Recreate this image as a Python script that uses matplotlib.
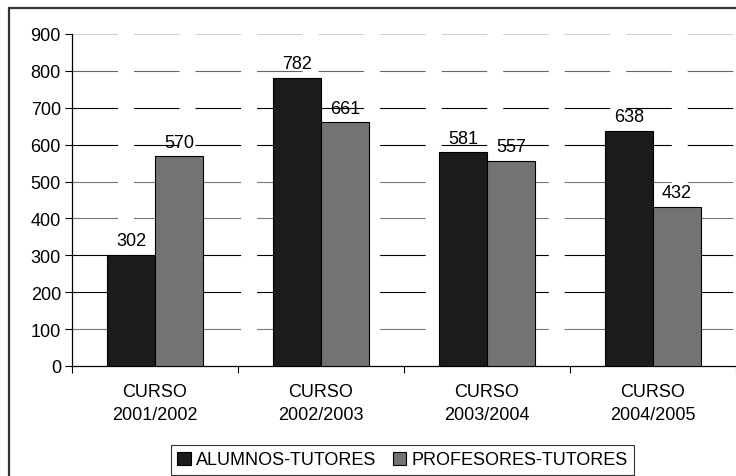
import matplotlib
matplotlib.use('Agg')
import matplotlib.pyplot as plt
import numpy as np
from matplotlib.patches import Rectangle

plt.rcParams['font.family'] = ['Liberation Sans', 'DejaVu Sans']
plt.rcParams['lines.scale_dashes'] = False

cursos = ["CURSO\n2001/2002", "CURSO\n2002/2003", "CURSO\n2003/2004", "CURSO\n2004/2005"]
alumnos = [302, 782, 581, 638]
profesores = [570, 661, 557, 432]
series_names = ["ALUMNOS-TUTORES", "PROFESORES-TUTORES"]

# grid line shades as they appear in the picture
grid_vals = [100, 200, 300, 400, 500, 600, 700, 800, 900]
grid_cols = ['#777777', '#000000', '#000000', '#777777', '#777777',
             '#000000', '#000000', '#666666', '#d0d0d0']

FS = 13
W, H = 736, 477
fig = plt.figure(figsize=(W / 100, H / 100), dpi=100)
ax = fig.add_axes([72 / W, (H - 367) / H, (W - 72) / W, 332 / H])

# outer frame (only top/left visible, rest cut off)
fig.patches.append(Rectangle((8.5 / W, -0.1), 1.2, (H - 8.5) / H + 0.1,
                             transform=fig.transFigure, fill=False,
                             edgecolor='#333333', linewidth=1.6))

x = np.arange(len(cursos))
bw = 0.29
ax.set_xlim(-0.5, len(cursos) - 0.5)
ax.set_ylim(0, 900)

for v, c in zip(grid_vals, grid_cols):
    ax.axhline(v, color=c, linewidth=0.8, linestyle=(0, (32.8, 11.5)), zorder=1)

ax.bar(x - bw / 2, alumnos, bw, color='#1c1c1c', edgecolor='black',
       linewidth=0.8, zorder=3, label=series_names[0])
ax.bar(x + bw / 2, profesores, bw, color='#737373', edgecolor='black',
       linewidth=0.8, zorder=3, label=series_names[1])

for xi, v in zip(x - bw / 2, alumnos):
    ax.text(xi, v + 14, str(v), ha='center', va='bottom', fontsize=FS, zorder=4)
for xi, v in zip(x + bw / 2, profesores):
    ax.text(xi, v + 14, str(v), ha='center', va='bottom', fontsize=FS, zorder=4)

ax.set_yticks(range(0, 1000, 100))
ax.set_xticks(np.arange(-0.5, len(cursos), 1.0))
ax.set_xticklabels([])
ax.set_xticks(x, minor=True)
ax.set_xticklabels(cursos, minor=True, fontsize=FS, linespacing=1.45)
ax.tick_params(axis='x', which='minor', length=0, pad=12)
ax.tick_params(axis='x', which='major', length=5, direction='out', width=0.8)
ax.tick_params(axis='y', length=5, width=0.8, labelsize=FS, pad=3)

for s in ['top', 'right']:
    ax.spines[s].set_visible(False)
ax.spines['left'].set_linewidth(0.9)
ax.spines['bottom'].set_linewidth(0.9)
ax.set_facecolor('none')

leg = ax.legend(loc='center', bbox_to_anchor=(402.5 / W, (H - 461) / H),
                bbox_transform=fig.transFigure, ncol=2, frameon=True,
                fancybox=False, edgecolor='black', fontsize=FS,
                handlelength=0.75, handleheight=0.75, handletextpad=0.3,
                columnspacing=0.9, borderpad=0.35, borderaxespad=0)
leg.get_frame().set_linewidth(0.8)

fig.savefig('out.png', dpi=100)
